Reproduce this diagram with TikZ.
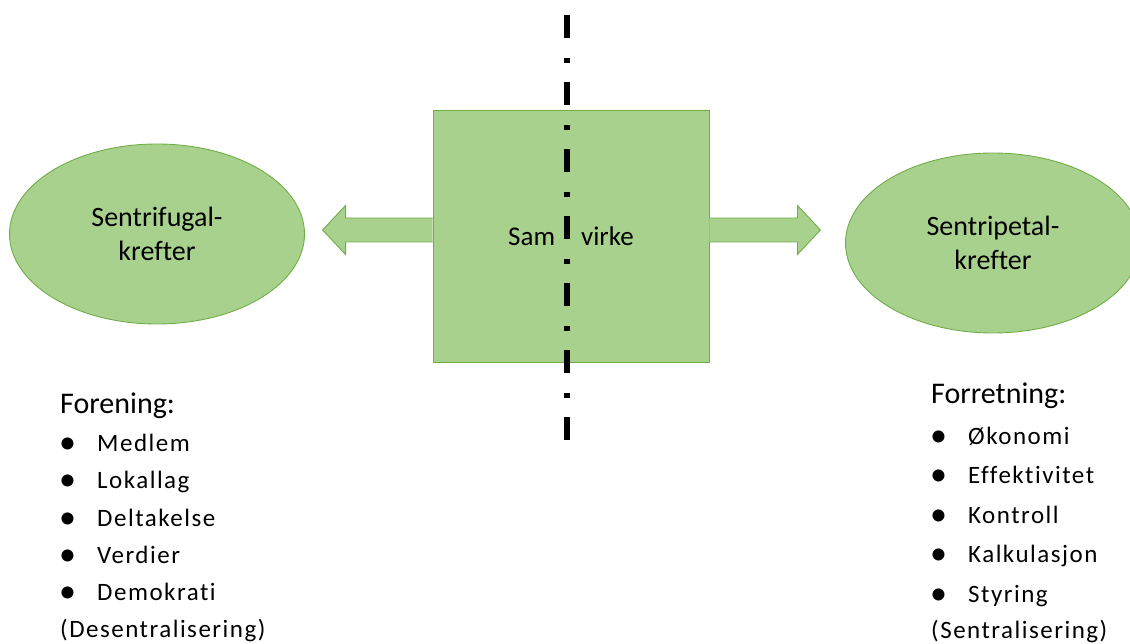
\documentclass[tikz,border=0pt]{standalone}
\usepackage{fontspec}
\setmainfont{Carlito}[Ligatures=NoCommon]
\newfontfamily\listfont{Carlito}[LetterSpace=6, Ligatures=NoCommon]
\usetikzlibrary{shapes.geometric,calc}
\definecolor{leaf}{HTML}{A9D18E}
\definecolor{leafedge}{HTML}{70AD47}
\tikzset{
  force/.style={ellipse, draw=leafedge, fill=leaf, line width=0.9pt,
    minimum width=295pt, minimum height=180pt, inner sep=0pt, align=center,
    font=\fontsize{28}{34}\selectfont},
  centrebox/.style={rectangle, draw=leafedge, fill=leaf, line width=0.9pt,
    minimum width=276pt, minimum height=252pt, inner sep=0pt,
    font=\fontsize{27}{32}\selectfont},
  blockarrow/.style={draw=leafedge, fill=leaf, line width=0.9pt, line join=miter},
  divider/.style={line width=5.5pt, black, dash pattern=on 23pt off 20pt on 5pt off 19pt},
  heading/.style={anchor=base west, inner sep=0pt, font=\fontsize{30}{36}\selectfont},
  item/.style={anchor=base west, inner sep=0pt, font=\listfont\fontsize{25}{30}\selectfont},
  dot/.style={anchor=base west, inner sep=0pt, font=\fontsize{34}{30}\selectfont},
}
\begin{document}
\begin{tikzpicture}[x=1pt,y=-1pt]
  \useasboundingbox (0,0) rectangle (1130,644);
  \clip (0,0) rectangle (1130,644);

  % the two forces
  \node[force] (fugal) at (157,234) {Sentrifugal-\\krefter};
  \node[force] (petal) at (993,243) {Sentripetal-\\krefter};

  % the co-operative in the middle
  \node[centrebox] (samvirke) at (571,236) {Sam\hspace{26pt}virke};

  % block arrows pointing out of the box
  \coordinate (lroot) at ($(samvirke.west)+(0,-6)$);
  \coordinate (rroot) at ($(samvirke.east)+(0,-6)$);
  \draw[blockarrow, shift={(lroot)}]
    (0,-12) -- (-87,-12) -- (-87,-24.5) -- (-110,0) -- (-87,24.5) -- (-87,12) -- (0,12);
  \draw[blockarrow, shift={(rroot)}]
    (0,-12) -- (88,-12) -- (88,-24.5) -- (111,0) -- (88,24.5) -- (88,12) -- (0,12);

  % dash-dot dividing line
  \coordinate (axtop) at (567,15);
  \coordinate (axbot) at (567,440);
  \draw[divider] (axtop) -- (axbot);

  % left list
  \node[heading] (forening) at (60,413) {Forening:};
  \foreach \txt/\y [count=\i] in {Medlem/451, Lokallag/488.5, Deltakelse/526, Verdier/563, Demokrati/600} {
    \node[dot] (ldot\i) at (59,\y+2) {•};
    \node[item] (litem\i) at (97,\y) {\txt};
  }
  \node[item] (desentral) at (60,637) {(Desentralisering)};

  % right list
  \node[heading] (forretning) at (931,403) {Forretning:};
  \foreach \txt/\y [count=\i] in {Økonomi/444, Effektivitet/483.5, Kontroll/523, Kalkulasjon/562.5, Styring/602} {
    \node[dot] (rdot\i) at (930,\y+2) {•};
    \node[item] (ritem\i) at (968,\y) {\txt};
  }
  \node[item] (sentral) at (931,638) {(Sentralisering)};
\end{tikzpicture}
\end{document}
